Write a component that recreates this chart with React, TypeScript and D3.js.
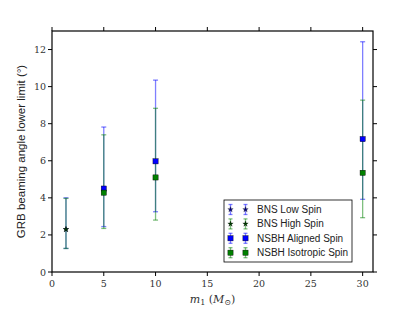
import React from 'react';
import * as d3 from 'd3';

// values
const bnsMass = [1.35];
const bnsLowVal = [2.3];
const bnsLowLo = [1.27];
const bnsLowHi = [4.0];
const bnsHighVal = [2.3];
const bnsHighLo = [1.27];
const bnsHighHi = [3.97];

const nsbhMass = [5, 10, 30];
const alignedVal = [4.5, 5.97, 7.17];
const alignedLo = [2.45, 3.25, 3.92];
const alignedHi = [7.82, 10.35, 12.42];
const isoVal = [4.28, 5.1, 5.35];
const isoLo = [2.35, 2.8, 2.93];
const isoHi = [7.4, 8.83, 9.27];

const xTicks = [0, 5, 10, 15, 20, 25, 30];
const yTicks = [0, 2, 4, 6, 8, 10, 12];

const W = 415, H = 312;
const margin = { left: 52, right: 42, top: 31, bottom: 40 };

const series = [
  { name: 'BNS Low Spin', x: bnsMass, v: bnsLowVal, lo: bnsLowLo, hi: bnsLowHi, color: '#0000ff', mark: '#000080', shape: 'star' },
  { name: 'BNS High Spin', x: bnsMass, v: bnsHighVal, lo: bnsHighLo, hi: bnsHighHi, color: '#008000', mark: '#003d00', shape: 'star' },
  { name: 'NSBH Aligned Spin', x: nsbhMass, v: alignedVal, lo: alignedLo, hi: alignedHi, color: '#0000ff', mark: '#0000ff', shape: 'square' },
  { name: 'NSBH Isotropic Spin', x: nsbhMass, v: isoVal, lo: isoLo, hi: isoHi, color: '#008000', mark: '#008000', shape: 'square' },
];

const star = d3.symbol().type(d3.symbolStar).size(9)();

function Marker({ cx, cy, s }: { cx: number; cy: number; s: any }) {
  if (s.shape === 'star') {
    return <path d={star as string} transform={`translate(${cx},${cy})`} fill={s.mark} stroke="#000" strokeWidth={0.3} />;
  }
  return <rect x={cx - 2.6} y={cy - 2.6} width={5.2} height={5.2} fill={s.mark} stroke="#000" strokeWidth={0.4} />;
}

export default function App() {
  const x = d3.scaleLinear().domain([0, 31]).range([margin.left, W - margin.right]);
  const y = d3.scaleLinear().domain([0, 13]).range([H - margin.bottom, margin.top]);
  const [x0, x1] = x.range();
  const [y0, y1] = y.range();
  const serif = '"DejaVu Serif", "Liberation Serif", serif';
  const sans = '"Liberation Sans", Arial, sans-serif';

  const legX = 224, legY = 200, legW = 128, legH = 62;

  return (
    <svg width={W} height={H} style={{ position: 'absolute', left: 0, top: 0 }}>
      <rect width={W} height={H} fill="#fff" />
      {/* error bars */}
      {series.map((s, si) => (
        <g key={si} stroke={s.color} strokeOpacity={0.5} strokeWidth={1.3}>
          {s.x.map((m, i) => (
            <g key={i}>
              <line x1={x(m)} x2={x(m)} y1={y(s.lo[i])} y2={y(s.hi[i])} />
              <line x1={x(m) - 2.5} x2={x(m) + 2.5} y1={y(s.lo[i])} y2={y(s.lo[i])} />
              <line x1={x(m) - 2.5} x2={x(m) + 2.5} y1={y(s.hi[i])} y2={y(s.hi[i])} />
            </g>
          ))}
        </g>
      ))}
      {series.map((s, si) => (
        <g key={'m' + si}>
          {s.x.map((m, i) => <Marker key={i} cx={x(m)} cy={y(s.v[i])} s={s} />)}
        </g>
      ))}
      {/* frame */}
      <rect x={x0} y={y1} width={x1 - x0} height={y0 - y1} fill="none" stroke="#000" strokeWidth={1.2} />
      {xTicks.map(t => (
        <g key={'x' + t}>
          <line x1={x(t)} x2={x(t)} y1={y0} y2={y0 + 4} stroke="#000" />
          <line x1={x(t)} x2={x(t)} y1={y1} y2={y1 - 4} stroke="#000" />
          <text x={x(t)} y={y0 + 15} textAnchor="middle" fontFamily={serif} fontSize={9.5} fill="#333">{t}</text>
        </g>
      ))}
      {yTicks.map(t => (
        <g key={'y' + t}>
          <line x1={x0} x2={x0 - 4} y1={y(t)} y2={y(t)} stroke="#000" />
          <line x1={x1} x2={x1 + 4} y1={y(t)} y2={y(t)} stroke="#000" />
          <text x={x0 - 6} y={y(t) + 3.5} textAnchor="end" fontFamily={serif} fontSize={9.5} fill="#333">{t}</text>
        </g>
      ))}
      <text x={(x0 + x1) / 2} y={303} textAnchor="middle" fontFamily={serif} fontSize={11} fill="#333">
        <tspan fontStyle="italic">m</tspan>
        <tspan fontSize={8} dy={2}>1</tspan>
        <tspan dy={-2}> (</tspan>
        <tspan fontStyle="italic">M</tspan>
        <tspan fontSize={8} dy={2}>⊙</tspan>
        <tspan dy={-2}>)</tspan>
      </text>
      <text transform={`translate(25,${(y0 + y1) / 2}) rotate(-90)`} textAnchor="middle" fontFamily={sans} fontSize={11.5} fill="#222">
        GRB beaming angle lower limit (°)
      </text>
      {/* legend */}
      <rect x={legX} y={legY} width={legW} height={legH} fill="#fff" stroke="#000" strokeWidth={0.8} />
      {series.map((s, si) => {
        const ly = legY + 9.5 + si * 14.4;
        return (
          <g key={'l' + si}>
            {[230.5, 245.5].map(lx => (
              <g key={lx}>
                <g stroke={s.color} strokeOpacity={0.5} strokeWidth={1.3}>
                  <line x1={lx} x2={lx} y1={ly - 5} y2={ly + 5} />
                  <line x1={lx - 2} x2={lx + 2} y1={ly - 5} y2={ly - 5} />
                  <line x1={lx - 2} x2={lx + 2} y1={ly + 5} y2={ly + 5} />
                </g>
                <Marker cx={lx} cy={ly} s={s} />
              </g>
            ))}
            <text x={257} y={ly + 3.5} fontFamily={sans} fontSize={10} fill="#222">{s.name}</text>
          </g>
        );
      })}
    </svg>
  );
}
